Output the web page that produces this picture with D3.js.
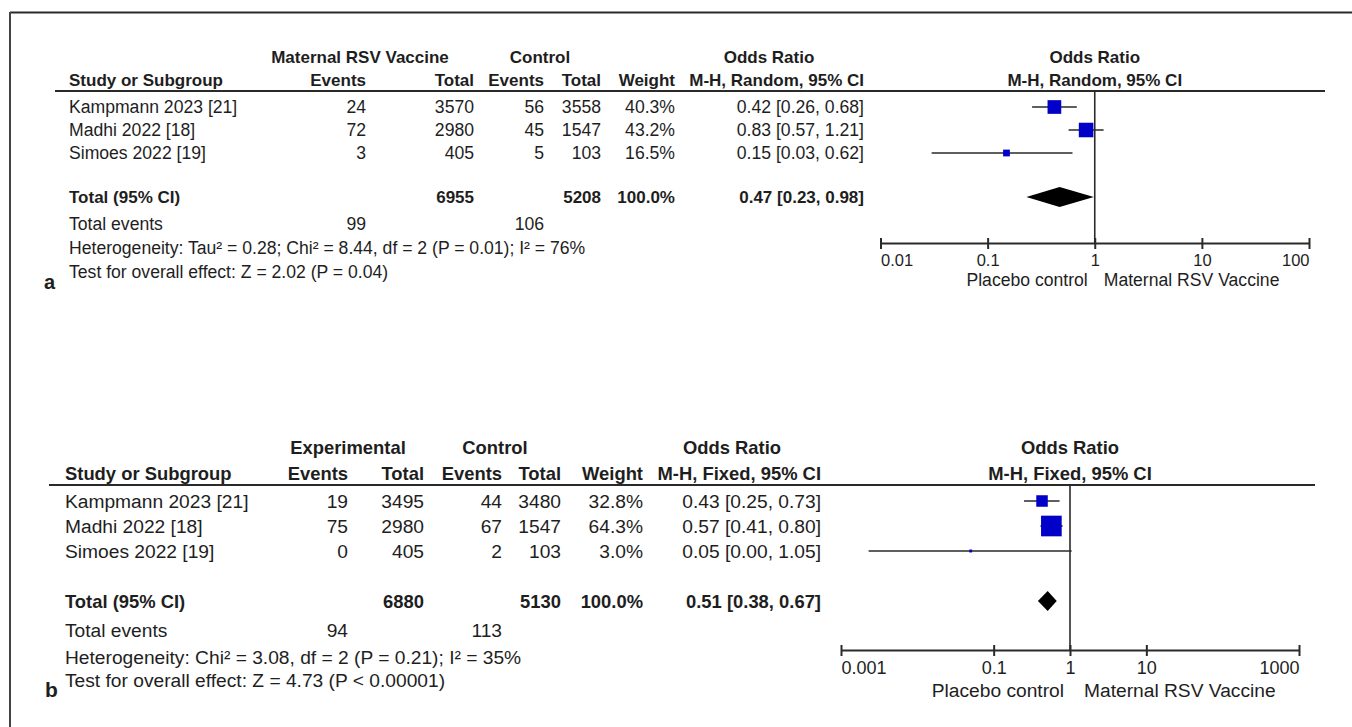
<!DOCTYPE html>
<html>
<head>
<meta charset="utf-8">
<script src="https://cdn.jsdelivr.net/npm/d3@7"></script>
<style>
  html, body { margin: 0; padding: 0; background: #fff; }
  svg { display: block; }
  text { font-family: "Liberation Sans", Arial, sans-serif; fill: #1e1e1e; }
</style>
</head>
<body>
<svg id="chart" width="1352" height="727"></svg>
<script>
// ---------------- DATA ----------------
const studies = ["Kampmann 2023 [21]", "Madhi 2022 [18]", "Simoes 2022 [19]"];

// Panel a (random effects)
const vaccEventsA = [24, 72, 3];
const vaccTotalA  = [3570, 2980, 405];
const ctrlEventsA = [56, 45, 5];
const ctrlTotalA  = [3558, 1547, 103];
const weightA     = [40.3, 43.2, 16.5];
const orA         = [0.42, 0.83, 0.15];
const loA         = [0.26, 0.57, 0.03];
const hiA         = [0.68, 1.21, 0.62];
const pooledA     = [0.47, 0.23, 0.98];       // OR, low, high
const totalsA     = [6955, 5208, 99, 106];     // vacc total, ctrl total, vacc events, ctrl events
const ticksA      = [0.01, 0.1, 1, 10, 100];
const tickLabelsA = ["0.01", "0.1", "1", "10", "100"];
const hetA  = "Heterogeneity: Tau\u00B2 = 0.28; Chi\u00B2 = 8.44, df = 2 (P = 0.01); I\u00B2 = 76%";
const testA = "Test for overall effect: Z = 2.02 (P = 0.04)";

// Panel b (fixed effects)
const vaccEventsB = [19, 75, 0];
const vaccTotalB  = [3495, 2980, 405];
const ctrlEventsB = [44, 67, 2];
const ctrlTotalB  = [3480, 1547, 103];
const weightB     = [32.8, 64.3, 3.0];
const orB         = [0.43, 0.57, 0.05];
const loB         = [0.25, 0.41, 0.0023];
const hiB         = [0.73, 0.80, 1.05];
const pooledB     = [0.51, 0.38, 0.67];
const totalsB     = [6880, 5130, 94, 113];
const ticksB      = [0.001, 0.1, 1, 10, 1000];
const tickLabelsB = ["0.001", "0.1", "1", "10", "1000"];
const hetB  = "Heterogeneity: Chi\u00B2 = 3.08, df = 2 (P = 0.21); I\u00B2 = 35%";
const testB = "Test for overall effect: Z = 4.73 (P < 0.00001)";

// ---------------- LAYOUT ----------------
const svg = d3.select("#chart");
const INK = "#2a2a2a";
const fmt2 = d3.format(".2f");
const fmt1 = d3.format(".1f");

// border
svg.append("line").attr("x1", 10).attr("x2", 1352).attr("y1", 12.5).attr("y2", 12.5)
  .attr("stroke", "#2a2a2a").attr("stroke-width", 2);
svg.append("line").attr("x1", 10).attr("x2", 10).attr("y1", 12).attr("y2", 727)
  .attr("stroke", "#444").attr("stroke-width", 2);

function panel(cfg, d) {
  const g = svg.append("g");
  const T = (x, y, s, opts = {}) => g.append("text")
      .attr("x", x).attr("y", y).attr("dy", "0.36em")
      .attr("text-anchor", opts.anchor || "start")
      .style("font-size", (opts.bold ? cfg.fsB : cfg.fsR) + "px")
      .style("font-weight", opts.bold ? "bold" : "normal")
      .text(s);

  // headers
  T(cfg.grpVaccC, cfg.head1, d.grpVacc, {bold: true, anchor: "middle"});
  T(cfg.grpCtrlC, cfg.head1, "Control", {bold: true, anchor: "middle"});
  T(cfg.orHeadC, cfg.head1, "Odds Ratio", {bold: true, anchor: "middle"});
  T(cfg.studyX, cfg.head2, "Study or Subgroup", {bold: true});
  T(cfg.evVaccR, cfg.head2, "Events", {bold: true, anchor: "end"});
  T(cfg.totVaccR, cfg.head2, "Total", {bold: true, anchor: "end"});
  T(cfg.evCtrlR, cfg.head2, "Events", {bold: true, anchor: "end"});
  T(cfg.totCtrlR, cfg.head2, "Total", {bold: true, anchor: "end"});
  T(cfg.weightR, cfg.head2, "Weight", {bold: true, anchor: "end"});
  T(cfg.ciR, cfg.head2, d.method, {bold: true, anchor: "end"});

  const x = d3.scaleLog().domain([d.ticks[0], d.ticks[d.ticks.length - 1]]).range([cfg.px0, cfg.px1]);
  const pc = (cfg.px0 + cfg.px1) / 2;
  T(pc, cfg.head1, "Odds Ratio", {bold: true, anchor: "middle"});
  T(pc, cfg.head2, d.method, {bold: true, anchor: "middle"});

  // header rule
  g.append("line").attr("x1", cfg.ruleX0).attr("x2", cfg.ruleX1)
    .attr("y1", cfg.hline).attr("y2", cfg.hline)
    .attr("stroke", INK).attr("stroke-width", 2);

  const y = d3.scalePoint().domain(studies).range([cfg.rows[0], cfg.rows[1]]);

  // study rows
  studies.forEach((s, i) => {
    const yy = y(s);
    T(cfg.studyX, yy, s);
    T(cfg.evVaccR, yy, d.vaccEvents[i], {anchor: "end"});
    T(cfg.totVaccR, yy, d.vaccTotal[i], {anchor: "end"});
    T(cfg.evCtrlR, yy, d.ctrlEvents[i], {anchor: "end"});
    T(cfg.totCtrlR, yy, d.ctrlTotal[i], {anchor: "end"});
    T(cfg.weightR, yy, fmt1(d.weight[i]) + "%", {anchor: "end"});
    T(cfg.ciR, yy, `${fmt2(d.or[i])} [${fmt2(d.lo[i])}, ${fmt2(d.hi[i])}]`, {anchor: "end"});
  });

  // totals
  T(cfg.studyX, cfg.total, "Total (95% CI)", {bold: true});
  T(cfg.totVaccR, cfg.total, d.totals[0], {bold: true, anchor: "end"});
  T(cfg.totCtrlR, cfg.total, d.totals[1], {bold: true, anchor: "end"});
  T(cfg.weightR, cfg.total, "100.0%", {bold: true, anchor: "end"});
  T(cfg.ciR, cfg.total, `${fmt2(d.pooled[0])} [${fmt2(d.pooled[1])}, ${fmt2(d.pooled[2])}]`, {bold: true, anchor: "end"});
  T(cfg.studyX, cfg.totEv, "Total events");
  T(cfg.evVaccR - cfg.evNudge, cfg.totEv, d.totals[2], {anchor: "end"});
  T(cfg.evCtrlR, cfg.totEv, d.totals[3], {anchor: "end"});
  T(cfg.studyX, cfg.het, d.het);
  T(cfg.studyX, cfg.test, d.test);
  g.append("text").attr("x", cfg.labX).attr("y", cfg.labY).attr("dy", "0.36em")
    .style("font-size", cfg.labFs + "px").style("font-weight", "bold").text(d.label);

  // forest plot: vertical line of no effect
  g.append("line").attr("x1", x(1)).attr("x2", x(1)).attr("y1", cfg.hline).attr("y2", cfg.axisY)
    .attr("stroke", INK).attr("stroke-width", 1.6);

  const size = d3.scaleLinear().domain([0, 100]).range([2, 31]);
  studies.forEach((s, i) => {
    const yy = y(s);
    g.append("line").attr("x1", x(d.lo[i])).attr("x2", x(d.hi[i])).attr("y1", yy).attr("y2", yy)
      .attr("stroke", INK).attr("stroke-width", 1.6);
    const w = size(d.weight[i]);
    g.append("rect").attr("x", x(d.or[i]) - w / 2).attr("y", yy - w / 2)
      .attr("width", w).attr("height", w).attr("fill", "#0000c8");
  });

  // pooled diamond
  const dy = cfg.total, hh = 10;
  g.append("path")
    .attr("d", `M${x(d.pooled[1])},${dy} L${x(d.pooled[0])},${dy - hh} L${x(d.pooled[2])},${dy} L${x(d.pooled[0])},${dy + hh} Z`)
    .attr("fill", "#000");

  // axis
  const axis = d3.axisBottom(x).tickValues(d.ticks)
    .tickFormat((v, i) => d.tickLabels[i]).tickSizeInner(5).tickSizeOuter(0).tickPadding(6);
  const ag = g.append("g").attr("transform", `translate(0,${cfg.axisY})`).call(axis);
  ag.select(".domain").attr("stroke", INK).attr("stroke-width", 2);
  ag.selectAll(".tick line").attr("y1", -5).attr("y2", 6).attr("stroke", INK).attr("stroke-width", 2);
  ag.selectAll(".tick text")
    .attr("y", cfg.tickLabY - cfg.axisY).attr("dy", "0.36em")
    .attr("text-anchor", (v, i) => i === 0 ? "start" : (i === d.ticks.length - 1 ? "end" : "middle"))
    .attr("fill", "#1e1e1e")
    .style("font-family", '"Liberation Sans", Arial, sans-serif')
    .style("font-size", cfg.tickFs + "px");

  T(x(1) - cfg.dirGapL, cfg.dirY, "Placebo control", {anchor: "end"});
  T(x(1) + cfg.dirGapR, cfg.dirY, "Maternal RSV Vaccine");
}

panel({
  fsR: 17.6, fsB: 17, tickFs: 16.5, labFs: 20,
  studyX: 69, evVaccR: 366, totVaccR: 474, evCtrlR: 544, totCtrlR: 601, weightR: 675, ciR: 864, evNudge: 0,
  grpVaccC: 360, grpCtrlC: 540, orHeadC: 769,
  px0: 880.5, px1: 1309,
  head1: 57, head2: 80, hline: 91, ruleX0: 55, ruleX1: 1325,
  rows: [107, 153], total: 197, totEv: 224, het: 248, test: 272,
  labX: 44, labY: 282,
  axisY: 243, tickLabY: 260, dirY: 280, dirGapL: 7, dirGapR: 9
}, {
  grpVacc: "Maternal RSV Vaccine", method: "M-H, Random, 95% CI", label: "a",
  vaccEvents: vaccEventsA, vaccTotal: vaccTotalA, ctrlEvents: ctrlEventsA, ctrlTotal: ctrlTotalA,
  weight: weightA, or: orA, lo: loA, hi: hiA, pooled: pooledA, totals: totalsA,
  ticks: ticksA, tickLabels: tickLabelsA, het: hetA, test: testA
});

panel({
  fsR: 19.2, fsB: 18.4, tickFs: 18, labFs: 21,
  studyX: 65, evVaccR: 348, totVaccR: 424, evCtrlR: 502, totCtrlR: 561, weightR: 643, ciR: 821, evNudge: 0,
  grpVaccC: 348, grpCtrlC: 495, orHeadC: 732,
  px0: 841, px1: 1299,
  head1: 447, head2: 473, hline: 485, ruleX0: 49, ruleX1: 1315,
  rows: [501, 551], total: 601, totEv: 630, het: 657, test: 680,
  labX: 45, labY: 689,
  axisY: 650, tickLabY: 668, dirY: 690, dirGapL: 6, dirGapR: 14
}, {
  grpVacc: "Experimental", method: "M-H, Fixed, 95% CI", label: "b",
  vaccEvents: vaccEventsB, vaccTotal: vaccTotalB, ctrlEvents: ctrlEventsB, ctrlTotal: ctrlTotalB,
  weight: weightB, or: orB, lo: loB, hi: hiB, pooled: pooledB, totals: totalsB,
  ticks: ticksB, tickLabels: tickLabelsB, het: hetB, test: testB
});
</script>
</body>
</html>
